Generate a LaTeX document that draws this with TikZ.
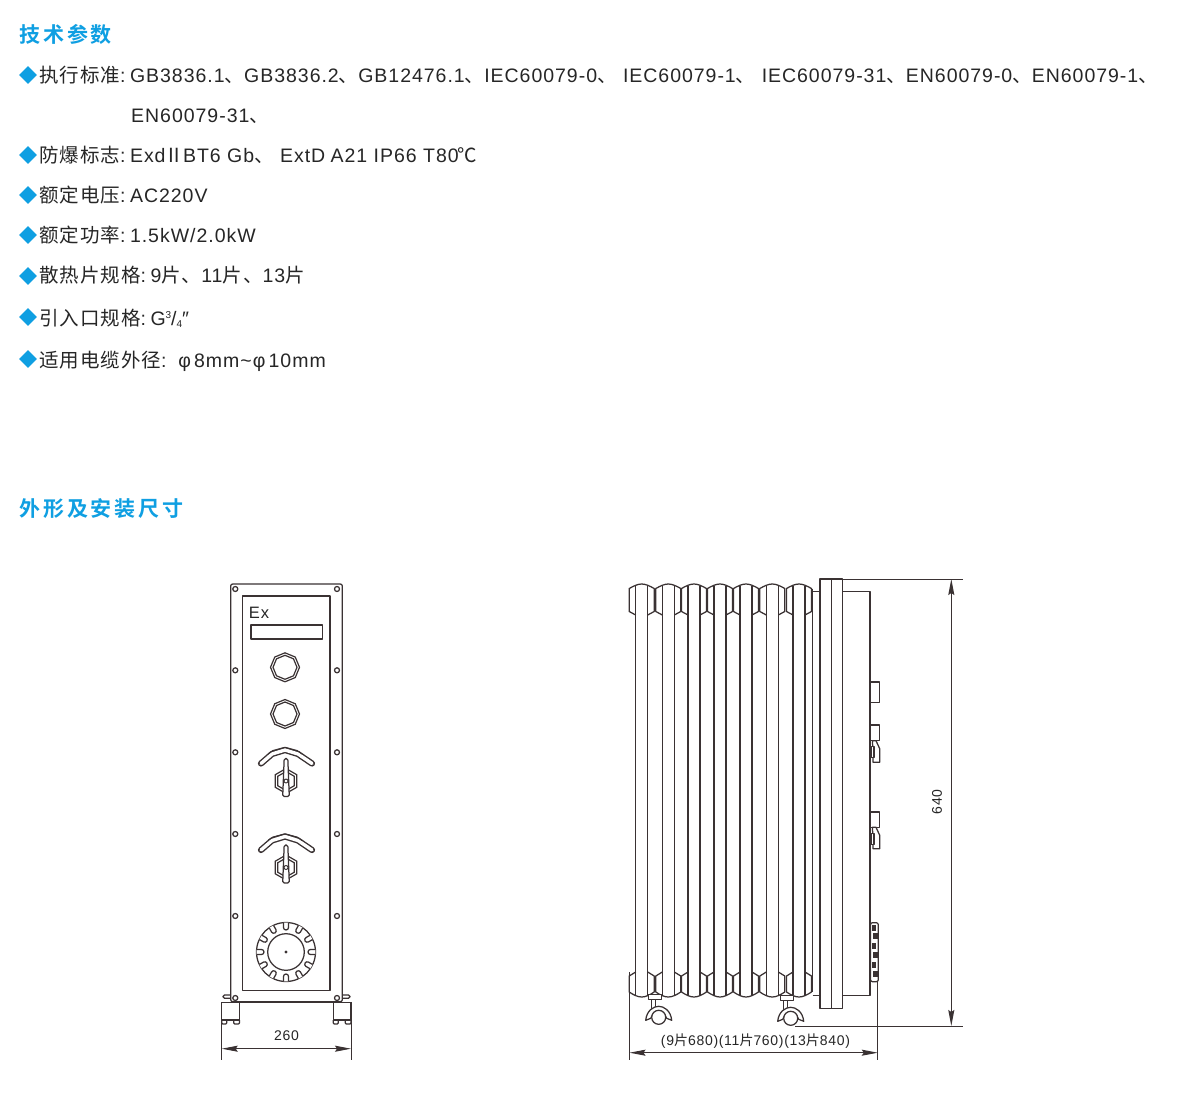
\documentclass[tikz,border=0pt]{standalone}
\usepackage{fontspec}
\setmainfont[LetterSpace=5]{Liberation Sans}
\newfontfamily\cjk[LetterSpace=5]{Noto Sans CJK SC}
\newfontfamily\cjkhead[LetterSpace=14]{Noto Sans CJK SC Bold}
\newcommand{\zh}[1]{{\cjk #1}}
\newcommand{\gapsp}{\hspace{4.5pt}}
\usetikzlibrary{arrows.meta,shapes.geometric}
\definecolor{headblue}{HTML}{0F9FE2}
\definecolor{inkline}{HTML}{3A3233}
\tikzset{
  rowtext/.style={anchor=base west,inner sep=0pt,font=\fontsize{19.5}{21}\selectfont,text=black!85},
  headtext/.style={anchor=base west,inner sep=0pt,font=\fontsize{21}{23}\cjkhead,text=headblue},
  bullet/.style={diamond,fill=headblue,inner sep=0pt,minimum size=18pt},
  dimtext/.style={inner sep=0pt,font=\fontsize{14}{16}\selectfont,text=black!85},
  part/.style={draw=inkline,line width=1.25pt,line join=round},
  dimline/.style={draw=inkline,line width=1pt},
  dimarrow/.style={draw=inkline,line width=1pt,{Stealth[length=16pt,width=6pt,inset=2pt]}-{Stealth[length=16pt,width=6pt,inset=2pt]}}
}
\begin{document}
\begin{tikzpicture}[x=1pt,y=-1pt]
\useasboundingbox[fill=white] (0,0) rectangle (1200,1094);

% headings
\node[headtext] (head1) at (19,43) {技术参数};
\node[headtext] (head2) at (19,516) {外形及安装尺寸};

% bullets
\foreach \n/\yy in {b1/75,b2/155,b3/195,b4/235,b5/276,b6/317,b7/359}
  \node[bullet] (\n) at (28,\yy) {};

% parameter rows
\node[rowtext] (t1) at (39,83) {\zh{执行标准}:\gapsp GB3836.1\zh{、}GB3836.2\zh{、}GB12476.1\zh{、}IEC60079-0\zh{、} IEC60079-1\zh{、} IEC60079-31\zh{、}EN60079-0\zh{、}EN60079-1\zh{、}};
\node[rowtext] (t1b) at (131,123) {EN60079-31\zh{、}};
\node[rowtext] (t2) at (39,163) {\zh{防爆标志}:\gapsp Exd\hspace{-1pt}\zh{Ⅱ}\hspace{-1pt}BT6 Gb\zh{、} ExtD\hspace{-1pt} A21 IP66 T80\hspace{-1pt}\zh{℃}};
\node[rowtext] (t3) at (39,203) {\zh{额定电压}:\gapsp AC220V};
\node[rowtext] (t4) at (39,243) {\zh{额定功率}:\gapsp 1.5kW/2.0kW};
\node[rowtext] (t5) at (39,283) {\zh{散热片规格}:\gapsp 9\zh{片、}11\zh{片、}13\zh{片}};
\node[rowtext] (t6) at (39,325) {\zh{引入口规格}:\gapsp G\raisebox{6pt}{\fontsize{10}{10}\selectfont 3}/\raisebox{-2pt}{\fontsize{10}{10}\selectfont 4}″};
\node[rowtext] (t7) at (39,367) {\zh{适用电缆外径}:\, φ\,8mm\textasciitilde φ\,10mm};

% front view: frame
\draw[part,rounded corners=2pt] (230.7,584) rectangle (342.3,1001.7);
\draw[part] (242.7,596) rectangle (330,990.7);
\foreach \yy in {589,670.3,752.3,834,916,998} {
  \draw[part] (235.3,\yy) circle (2.5);
  \draw[part] (337,\yy) circle (2.5);
}
\node[inner sep=0pt,font=\fontsize{16.5}{18}\selectfont,text=black!85] (exmark) at (259,613) {Ex};
\draw[part] (251,625) rectangle (322.7,639);

% front view: glands
\foreach \yy in {667.3,714} {
  \node[draw=inkline,line width=1.2pt,regular polygon,regular polygon sides=8,rotate=22.5,inner sep=0pt,minimum size=29pt] at (285,\yy) {};
  \node[draw=inkline,line width=1.2pt,regular polygon,regular polygon sides=8,rotate=22.5,inner sep=0pt,minimum size=24pt] at (285,\yy) {};
}

% front view: switches
\foreach \dy in {0,86.5} {
  \begin{scope}[shift={(0,\dy)}]
    \draw[part,double=white,double distance=3.4pt,line width=1.4pt,line cap=round] (261,763.5) -- (272,754) -- (285,750) -- (298,754) -- (312,763.5);
    \draw[draw=inkline,line width=1pt] (268,754) -- (273,750.5) -- (285,747.3) -- (297,750.5) -- (302,754);
    \node[draw=inkline,line width=1.2pt,regular polygon,regular polygon sides=6,rotate=30,inner sep=0pt,minimum size=25pt] at (286,781) {};
    \node[draw=inkline,line width=1.2pt,regular polygon,regular polygon sides=6,rotate=30,inner sep=0pt,minimum size=19pt] at (286,781) {};
    \draw[part,fill=white,rounded corners=1.5pt] (284.2,758.5) -- (287.8,758.5) -- (289.3,796.5) -- (282.7,796.5) -- cycle;
    \draw[part,fill=white,line width=1pt] (286,781) circle (2);
  \end{scope}
}

% front view: dial
\draw[part] (286,952) circle (29.5);
\draw[part] (286,952) circle (18.3);
\fill[inkline] (286,952) circle (1.7);
\foreach \ang in {0,30,...,330} {
  \begin{scope}[shift={(286,952)},rotate=\ang]
    \draw[part,fill=white] (29.3,-2.5) -- (24.5,-2.5) arc (270:90:2.5) -- (29.3,2.5);
  \end{scope}
}

% front view: feet
\draw[part] (221.7,1002.3) -- (351,1002.3);
\foreach \xx in {221.7,333.3} {
  \draw[part] (\xx,1002.3) rectangle (\xx+17.7,1020);
  \draw[part,rounded corners=1pt] (\xx,1020) -- (\xx,1024) -- (\xx+5,1024) -- (\xx+5,1020);
  \draw[part,rounded corners=1pt] (\xx+12,1020) -- (\xx+12,1024) -- (\xx+17.7,1024) -- (\xx+17.7,1020);
}
\draw[part,rounded corners=1.5pt] (230.7,995) -- (223,995) -- (223,998.3) -- (230.7,998.3);
\draw[part,rounded corners=1.5pt] (342.3,995) -- (350,995) -- (350,998.3) -- (342.3,998.3);

% width dimension
\coordinate (wa) at (221.7,1002.3);
\coordinate (wb) at (221.7,1060);
\coordinate (wc) at (351,1002.3);
\coordinate (wd) at (351,1060);
\coordinate (we) at (221.7,1048.7);
\coordinate (wf) at (351,1048.7);
\path[dimline] (wa) -- (wb);
\path[dimline] (wc) -- (wd);
\path[dimarrow] (we) -- (wf);
\node[dimtext] (wlabel) at (286.5,1036) {260};

% side view: fins
\foreach \cx in {641.7,668.3,694,720,746,772.3,799} {
  \begin{scope}[shift={(\cx,0)}]
    \draw[part] (-6,615) -- (-12.5,611.5) -- (-12.5,588.5) .. controls (-8,586) and (-4,584) .. (0,584) .. controls (4,584) and (8,586) .. (12.5,588.5) -- (12.5,611.5) -- (6,615);
    \draw[part] (-6,585.8) -- (-6,995);
    \draw[part] (6,585.8) -- (6,995);
    \draw[part] (-6,972) -- (-12.5,976) -- (-12.5,992) .. controls (-8,995) and (-4,997) .. (0,997) .. controls (4,997) and (8,995) .. (12.5,992) -- (12.5,976) -- (6,972);
  \end{scope}
}

% side view: body and flange
\draw[part] (812.7,588.5) -- (812.7,992);
\draw[part] (812.7,591.7) -- (820,591.7);
\draw[part] (812.7,995.3) -- (820,995.3);
\draw[part] (820,579) rectangle (842.3,1008.3);
\draw[part] (831.7,579) -- (831.7,1008.3);
\draw[part] (842.3,591.7) -- (870,591.7) -- (870,995.3) -- (842.3,995.3);

% side view: fittings on the door
\foreach \yy/\hh in {682/20.7,725/15.7,812/15.3}
  \draw[part] (870,\yy) rectangle (879.7,\yy+\hh);
\foreach \yy in {740.7,827.3} {
  \draw[part,fill=white] (872.5,\yy) -- (876,\yy) -- (879.7,\yy+8) -- (879.7,\yy+21.5) -- (873,\yy+21.5) -- (873,\yy+17) -- cycle;
  \draw[part,fill=white] (871,\yy+6) rectangle (874,\yy+17);
}
\draw[part,rounded corners=2pt] (870.5,922.7) rectangle (878.3,981.7);
\foreach \yy/\xx in {925/871.5,933/873,943/871.5,952/873,962/871.5,971/873}
  \fill[inkline] (\xx,\yy) rectangle (\xx+4.5,\yy+6);

% side view: castors
\foreach \wx/\wy in {658.7/1017.3,790.7/1018.3} {
  \begin{scope}[shift={(\wx,\wy)}]
    \draw[part,fill=white] (-10.5,-23) rectangle (3,-17.5);
    \draw[part,fill=white] (-7,-17.5) rectangle (-3,-9);
    \draw[part,fill=white] (-13,3) .. controls (-12,-7) and (-5,-11) .. (0,-11) .. controls (5,-11) and (12,-7) .. (13,3) -- (8,1) .. controls (6,-6) and (-6,-6) .. (-8,1) -- cycle;
    \draw[part,fill=white] (0,0) circle (7);
  \end{scope}
}

% height dimension
\coordinate (ha) at (842.3,579);
\coordinate (hb) at (963,579);
\coordinate (hc) at (795,1026);
\coordinate (hd) at (963,1026);
\coordinate (he) at (951.3,579);
\coordinate (hf) at (951.3,1026);
\path[dimline] (ha) -- (hb);
\path[dimline] (hc) -- (hd);
\path[dimarrow] (he) -- (hf);
\node[dimtext,rotate=90] (hlabel) at (937,802) {640};

% depth dimension
\coordinate (da) at (629.5,972);
\coordinate (db) at (629.5,1060);
\coordinate (dc) at (877.8,982);
\coordinate (dd) at (877.8,1060);
\coordinate (de) at (629.5,1052.7);
\coordinate (df) at (877.8,1052.7);
\path[dimline] (da) -- (db);
\path[dimline] (dc) -- (dd);
\path[dimarrow] (de) -- (df);
\node[dimtext] (dlabel) at (755.5,1041) {(9\zh{片}680)(11\zh{片}760)(13\zh{片}840)};
\end{tikzpicture}
\end{document}
